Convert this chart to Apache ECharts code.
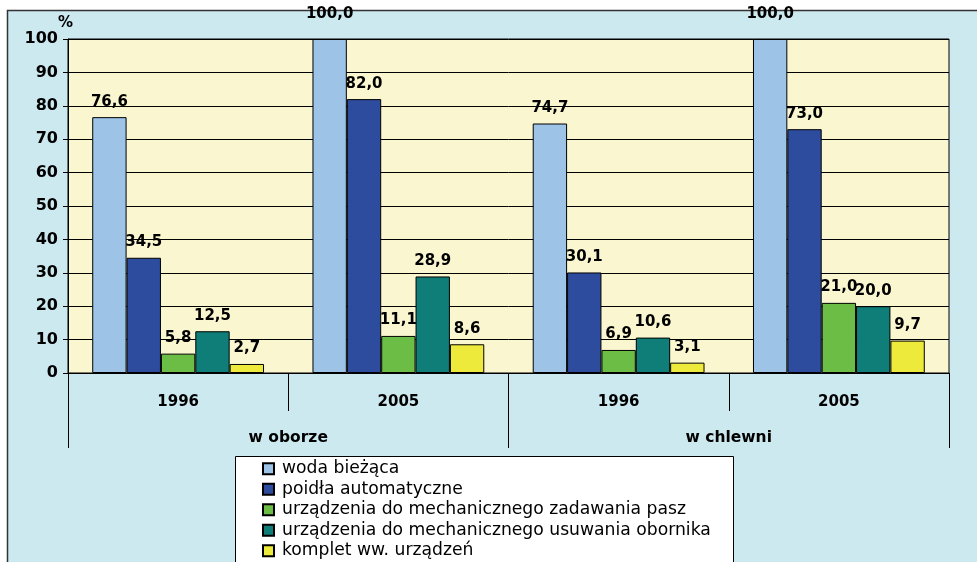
<!DOCTYPE html>
<html><head><meta charset="utf-8">
<script src="https://cdn.jsdelivr.net/npm/echarts@6/dist/echarts.min.js"></script>
<style>html,body{margin:0;padding:0;background:#fff}#c{width:977px;height:562px}</style>
</head><body><div id="c"></div>
<script>
const years = ['1996', '2005', '1996', '2005'];
const places = ['w oborze', 'w chlewni'];
const seriesNames = ['woda bieżąca', 'poidła automatyczne', 'urządzenia do mechanicznego zadawania pasz', 'urządzenia do mechanicznego usuwania obornika', 'komplet ww. urządzeń'];
const woda = [76.6, 100.0, 74.7, 100.0];
const poidla = [34.5, 82.0, 30.1, 73.0];
const zadawanie = [5.8, 11.1, 6.9, 21.0];
const usuwanie = [12.5, 28.9, 10.6, 20.0];
const komplet = [2.7, 8.6, 3.1, 9.7];
const yTicks = [0, 10, 20, 30, 40, 50, 60, 70, 80, 90, 100];
const colors = ['#9dc3e6', '#2e4c9e', '#6bbd45', '#0f7d78', '#eeea3c'];

const FONT = '"DejaVu Sans", sans-serif';
const values = [woda, poidla, zadawanie, usuwanie, komplet];
const chart = echarts.init(document.getElementById('c'), null, {renderer: 'canvas'});
chart.setOption({
  animation: false,
  textStyle: {fontFamily: FONT},
  graphic: [
    {type: 'rect', z: -10, shape: {x: 7.5, y: 10.5, width: 990, height: 570}, style: {fill: '#cde9f0', stroke: '#333', lineWidth: 1.5}},
    {type: 'rect', z: -5, shape: {x: 235.5, y: 456.5, width: 498, height: 120}, style: {fill: '#ffffff', stroke: '#000', lineWidth: 1}}
  ],
  grid: {left: 68, right: 28, top: 39, bottom: 189, show: true, backgroundColor: '#faf6cf', borderColor: '#000', borderWidth: 1, containLabel: false},
  legend: {
    orient: 'vertical', left: 262, top: 459, height: 103, padding: 0, itemWidth: 11, itemHeight: 11, itemGap: 1,
    icon: 'rect',
    textStyle: {fontSize: 17.2, lineHeight: 19.5, color: '#000', fontFamily: FONT, padding: [0, 0, 0, 3]},
    data: seriesNames
  },
  xAxis: [
    {type: 'category', data: years, position: 'bottom',
     axisLine: {show: true, lineStyle: {color: '#000', width: 1}},
     axisTick: {show: true, length: 38, interval: 0, lineStyle: {color: '#000'}},
     axisLabel: {fontSize: 15, fontWeight: 'bold', color: '#000', margin: 22, fontFamily: FONT}},
    {type: 'category', data: places, position: 'bottom', gridIndex: 0,
     axisLine: {show: false},
     axisTick: {show: true, length: 75, interval: 0, lineStyle: {color: '#000'}},
     axisLabel: {fontSize: 15.5, fontWeight: 'bold', color: '#000', margin: 57, fontFamily: FONT}}
  ],
  yAxis: {
    type: 'value', min: 0, max: 100, interval: 10,
    name: '%', nameLocation: 'end', nameGap: 1,
    nameTextStyle: {fontSize: 15, fontWeight: 'bold', color: '#000', fontFamily: FONT, align: 'right', padding: [0, -5, 0, 0]},
    axisLine: {show: true, lineStyle: {color: '#000'}},
    axisTick: {show: true, length: 5, lineStyle: {color: '#000'}},
    axisLabel: {fontSize: 16, fontWeight: 'bold', color: '#000', margin: 10, fontFamily: FONT},
    splitLine: {show: true, lineStyle: {color: '#000', width: 1}}
  },
  series: seriesNames.map((n, i) => ({
    name: n, type: 'bar', xAxisIndex: 0,
    data: values[i].map(v => v >= 100 ? {value: v, label: {distance: 17}} : v),
    barCategoryGap: '22%', barGap: '0%',
    itemStyle: {color: colors[i], borderColor: '#000', borderWidth: 1},
    label: {show: true, position: 'top', distance: 8, fontSize: 15, fontWeight: 'bold', color: '#000', fontFamily: FONT,
      formatter: p => p.value.toFixed(1).replace('.', ',')}
  }))
});
</script></body></html>
